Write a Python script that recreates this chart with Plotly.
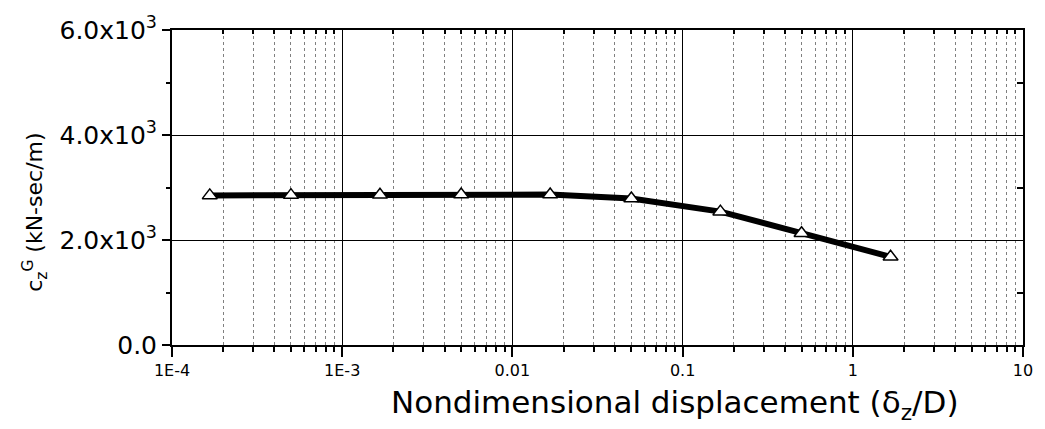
import plotly.graph_objects as go

# Damping coefficient vs. nondimensional displacement
disp_ratio = [1.667e-4, 5e-4, 1.667e-3, 5e-3, 1.667e-2, 5e-2, 0.1667, 0.5, 1.667]
damping = [2850, 2855, 2860, 2865, 2865, 2790, 2540, 2130, 1680]

x_tick_vals = [1e-4, 1e-3, 1e-2, 1e-1, 1, 10]
x_tick_text = ["1E-4", "1E-3", "0.01", "0.1", "1", "10"]
y_tick_vals = [0, 2000, 4000, 6000]
y_tick_text = ["0.0", "2.0x10<sup>3</sup>", "4.0x10<sup>3</sup>", "6.0x10<sup>3</sup>"]

minor_x = [m * 10 ** e for e in range(-4, 1) for m in range(2, 10)]
minor_y = [1000, 3000, 5000]

FONT = "DejaVu Sans"

fig = go.Figure()
fig.add_trace(go.Scatter(
    x=disp_ratio, y=damping, mode="lines+markers",
    line=dict(color="black", width=6),
    marker=dict(symbol="triangle-up", size=13, color="white",
                line=dict(color="black", width=1.5)),
    showlegend=False,
))
# empty trace so the mirrored (inside-tick) axes are drawn
fig.add_trace(go.Scatter(x=[], y=[], xaxis="x2", yaxis="y2", showlegend=False))

fig.update_layout(
    width=1045, height=429,
    margin=dict(l=172, r=13, t=29, b=84),
    paper_bgcolor="white", plot_bgcolor="white",
    font=dict(family=FONT, color="black"),
    xaxis=dict(
        type="log", range=[-4, 1],
        tickmode="array", tickvals=x_tick_vals, ticktext=x_tick_text,
        tickfont=dict(size=16),
        ticks="outside", ticklen=10, tickwidth=1.5, tickcolor="black",
        showgrid=True, gridcolor="black", gridwidth=1,
        showline=True, linecolor="black", linewidth=2, mirror=True,
        zeroline=False,
        minor=dict(tickmode="array", tickvals=minor_x, ticks="outside",
                   ticklen=5, tickwidth=1.5, tickcolor="black",
                   showgrid=True, gridcolor="#808080", griddash="dot",
                   gridwidth=1),
    ),
    yaxis=dict(
        range=[0, 6000],
        tickmode="array", tickvals=y_tick_vals, ticktext=y_tick_text,
        tickfont=dict(size=25),
        ticks="outside", ticklen=8, tickwidth=1.5, tickcolor="black",
        showgrid=True, gridcolor="black", gridwidth=1,
        showline=True, linecolor="black", linewidth=2, mirror=True,
        zeroline=False,
        minor=dict(tickmode="array", tickvals=minor_y, ticks="outside",
                   ticklen=4, tickwidth=1.5, tickcolor="black", showgrid=False),
    ),
    xaxis2=dict(
        type="log", range=[-4, 1], overlaying="x", side="top",
        tickmode="array", tickvals=[], showticklabels=False,
        ticks="", showgrid=False, showline=False, zeroline=False,
        minor=dict(tickmode="array", tickvals=minor_x, ticks="inside",
                   ticklen=4, tickwidth=1.5, tickcolor="black", showgrid=False),
    ),
    yaxis2=dict(
        range=[0, 6000], overlaying="y", side="right",
        tickmode="array", tickvals=[], showticklabels=False,
        ticks="", showgrid=False, showline=False, zeroline=False,
        minor=dict(tickmode="array", tickvals=minor_y, ticks="inside",
                   ticklen=6, tickwidth=1.5, tickcolor="black", showgrid=False),
    ),
    annotations=[
        dict(text="Nondimensional displacement (δ<sub>z</sub>/D)",
             xref="paper", yref="paper", x=0.5907, y=-0.19,
             xanchor="center", yanchor="middle", showarrow=False,
             font=dict(size=31, family=FONT, color="black")),
        dict(text="c<sub>z</sub><sup>G</sup> (kN-sec/m)",
             xref="paper", yref="paper", x=-0.1605, y=0.421,
             xanchor="center", yanchor="middle", textangle=-90, showarrow=False,
             font=dict(size=22, family=FONT, color="black")),
    ],
)

fig.write_html("out.html")
